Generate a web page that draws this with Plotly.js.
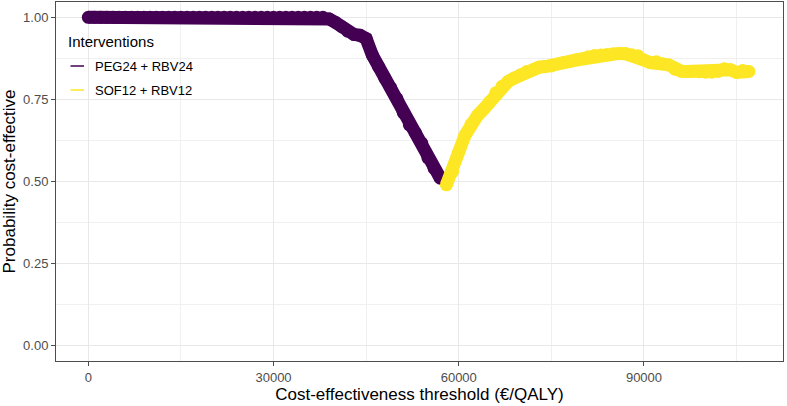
<!DOCTYPE html>
<html>
<head>
<meta charset="utf-8">
<script src="https://cdn.plot.ly/plotly-3.0.1.min.js"></script>
<style>html,body{margin:0;padding:0;background:#fff;}#chart{width:787px;height:406px;}</style>
</head>
<body>
<div id="chart"></div>
<script>
// Interventions
const interventions = ['PEG24 + RBV24', 'SOF12 + RBV12'];
const colors = ['#440154', '#FDE725'];
const legendTitle = 'Interventions';

// PEG24 + RBV24 optimal region: threshold (€/QALY) and probability cost-effective
const pegThreshold = [0,1000,2000,3000,4000,5000,6000,7000,8000,9000,10000,11000,12000,13000,14000,15000,16000,17000,18000,19000,20000,21000,22000,23000,24000,25000,26000,27000,28000,29000,30000,31000,32000,33000,34000,35000,36000,37000,38000,39000,40000,41000,42000,43000,44000,45000,46000,47000,48000,49000,50000,51000,52000,53000,54000,55000,56000,57000];
const pegProb = [1,1,1,1,1,1,1,1,1,1,1,1,1,1,1,1,1,1,1,1,1,1,1,1,1,1,1,1,1,1,1,1,1,1,1,1,1,1,1,0.995,0.985,0.972,0.958,0.948,0.945,0.935,0.885,0.85,0.815,0.785,0.752,0.71,0.672,0.648,0.617,0.572,0.54,0.51];

// SOF12 + RBV12 optimal region
const sofThreshold = [58000,59000,60000,61000,62000,63000,64000,65000,66000,67000,68000,69000,70000,71000,72000,73000,74000,75000,76000,77000,78000,79000,80000,81000,82000,83000,84000,85000,86000,87000,88000,89000,90000,91000,92000,93000,94000,95000,96000,97000,98000,99000,100000,101000,102000,103000,104000,105000,106000,107000];
const sofProb = [0.49,0.53,0.59,0.64,0.675,0.70,0.72,0.742,0.77,0.79,0.805,0.815,0.825,0.835,0.84,0.848,0.85,0.852,0.858,0.862,0.866,0.87,0.874,0.88,0.884,0.885,0.887,0.889,0.89,0.889,0.886,0.883,0.87,0.862,0.865,0.858,0.855,0.842,0.836,0.835,0.836,0.834,0.833,0.833,0.835,0.843,0.84,0.832,0.838,0.835];

// Axis ticks
const xTickVals = [0, 30000, 60000, 90000];
const xTickText = ['0', '30000', '60000', '90000'];
const yTickVals = [0, 0.25, 0.5, 0.75, 1];
const yTickText = ['0.00', '0.25', '0.50', '0.75', '1.00'];

const FONT = 'Liberation Sans, Arial, Helvetica, sans-serif';

const traces = [
  {x: pegThreshold, y: pegProb, type: 'scatter', mode: 'lines+markers', name: interventions[0],
   line: {color: colors[0], width: 13}, marker: {color: colors[0], size: 13},
   showlegend: false, hoverinfo: 'skip'},
  {x: sofThreshold, y: sofProb, type: 'scatter', mode: 'lines+markers', name: interventions[1],
   line: {color: colors[1], width: 13}, marker: {color: colors[1], size: 13},
   showlegend: false, hoverinfo: 'skip'}
];

const axisCommon = {
  showgrid: true, gridcolor: '#e8e8e8', gridwidth: 1,
  showline: true, mirror: true, linecolor: '#4d4d4d', linewidth: 1,
  ticks: 'outside', ticklen: 4, tickcolor: '#4d4d4d', tickwidth: 1,
  tickfont: {family: FONT, size: 13, color: '#4d4d4d'},
  zeroline: false, tickmode: 'array'
};

// Plot-area geometry (pixels) used to place the in-panel legend
const M = {l: 56, r: 4, t: 2, b: 45};
const W = 787, H = 406;
const pw = W - M.l - M.r, ph = H - M.t - M.b;
const px = v => (v - M.l) / pw;
const py = v => 1 - (v - M.t) / ph;

const legendItemsY = [66, 90];
const annotations = [
  {xref: 'paper', yref: 'paper', x: px(66), y: py(42), xanchor: 'left', yanchor: 'middle',
   text: legendTitle, showarrow: false, font: {family: FONT, size: 15, color: '#000'}}
];
const shapes = [
  {type: 'rect', xref: 'paper', yref: 'paper', x0: px(57), x1: px(197), y0: py(24), y1: py(108),
   fillcolor: '#ffffff', line: {width: 0}, layer: 'between'}
];
interventions.forEach((name, i) => {
  annotations.push({xref: 'paper', yref: 'paper', x: px(93), y: py(legendItemsY[i] + 0.5), xanchor: 'left', yanchor: 'middle',
    text: name, showarrow: false, font: {family: FONT, size: 13, color: '#000'}});
  shapes.push({type: 'line', xref: 'paper', yref: 'paper', x0: px(70.5), x1: px(84), y0: py(legendItemsY[i]), y1: py(legendItemsY[i]),
    line: {color: colors[i], width: 1.5}, layer: 'above'});
});

const layout = {
  width: W, height: H,
  margin: M,
  paper_bgcolor: '#ffffff', plot_bgcolor: '#ffffff',
  font: {family: FONT, color: '#000'},
  xaxis: Object.assign({}, axisCommon, {
    range: [-5231, 112514], tickvals: xTickVals, ticktext: xTickText,
    minor: {tickmode: 'array', tickvals: [15000, 45000, 75000, 105000], showgrid: true, gridcolor: '#f0f0f0', gridwidth: 1, ticks: ''},
    title: {text: 'Cost-effectiveness threshold (€/QALY)', font: {family: FONT, size: 17, color: '#000'}, standoff: 4}
  }),
  yaxis: Object.assign({}, axisCommon, {
    range: [-0.0466, 1.0466], tickvals: yTickVals, ticktext: yTickText,
    minor: {tickmode: 'array', tickvals: [0.125, 0.375, 0.625, 0.875], showgrid: true, gridcolor: '#f0f0f0', gridwidth: 1, ticks: ''},
    title: {text: 'Probability cost-effective', font: {family: FONT, size: 17, color: '#000'}, standoff: 6}
  }),
  annotations: annotations,
  shapes: shapes,
  showlegend: false
};

Plotly.newPlot('chart', traces, layout, {staticPlot: true, displayModeBar: false});
</script>
</body>
</html>
